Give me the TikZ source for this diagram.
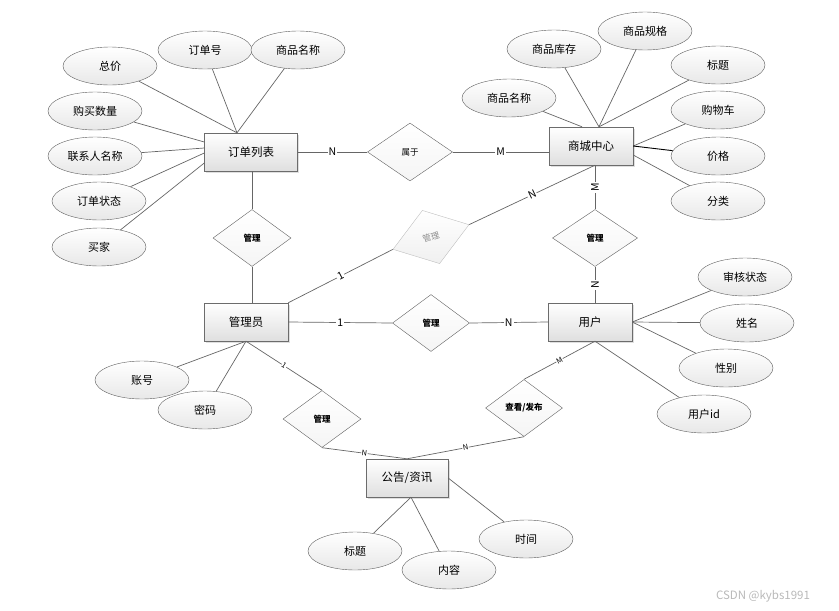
\documentclass[tikz,border=0pt]{standalone}
\usepackage{fontspec}
\newfontfamily\cjk{Noto Sans CJK SC}
\usetikzlibrary{shapes.geometric,shadows}

\begin{document}
\begin{tikzpicture}[x=1pt,y=-1pt,
		entity/.style={draw=gray!85!black, top color=white, bottom color=gray!25, minimum width=84, minimum height=38, inner sep=0,
			drop shadow={opacity=0.25, shadow xshift=1.5pt, shadow yshift=-1.5pt}, font=\cjk\fontsize{11.5}{13}\selectfont},
		attr/.style={ellipse, draw=gray!75!black, top color=white, bottom color=gray!18, minimum width=94, minimum height=38, inner sep=0,
			font=\cjk\fontsize{11}{13}\selectfont},
		rel/.style={diamond, draw=gray!75!black, top color=white, bottom color=gray!8, minimum width=78, minimum height=57, inner sep=0,
			font=\cjk\bfseries\fontsize{8.5}{10}\selectfont},
		link/.style={draw=gray!80!black, line width=0.7pt},
		card/.style={fill=white, inner sep=1pt, font=\cjk\fontsize{10.5}{11}\selectfont},
		smallcard/.style={fill=white, inner sep=0.5pt, font=\cjk\fontsize{7.5}{8}\selectfont}]
	\useasboundingbox (0,0) rectangle (839,611);

	% entities
	\node[entity, minimum width=93] (order) at (251,152) {订单列表};
	\node[entity] (mall) at (591,146) {商城中心};
	\node[entity] (admin) at (246,322) {管理员};
	\node[entity] (user) at (590,322) {用户};
	\node[entity, minimum width=82] (news) at (407,478) {公告/资讯};

	% relations
	\node[rel, minimum width=85, minimum height=58, font=\cjk\fontsize{8.5}{10}\selectfont] (belong) at (410,152) {属于};
	\node[rel] (mgrOrder) at (252,238) {管理};
	\node[rel, minimum width=85] (mgrMall) at (595,238) {管理};
	\node[rel, minimum width=77] (mgrUser) at (431,323) {管理};
	\node[rel] (mgrNews) at (322,419) {管理};
	\node[rel, minimum width=77] (view) at (524,408) {查看/发布};
	\node[rel, draw=gray!50, top color=white, bottom color=gray!12, text=gray!90, rotate=18, minimum width=80, minimum height=56,
		font=\cjk\fontsize{8.5}{10}\selectfont] (mgrGood) at (431,237) {管理};

	% attributes of order
	\node[attr] (total) at (110,66) {总价};
	\node[attr] (orderNo) at (205,50) {订单号};
	\node[attr] (goodsName) at (298,50) {商品名称};
	\node[attr] (amount) at (95,111) {购买数量};
	\node[attr] (contact) at (95,156) {联系人名称};
	\node[attr] (state) at (99,201) {订单状态};
	\node[attr] (buyer) at (99,247) {买家};

	% attributes of mall
	\node[attr] (mallName) at (509,98) {商品名称};
	\node[attr] (stock) at (554,49) {商品库存};
	\node[attr] (spec) at (645,31) {商品规格};
	\node[attr] (mallTitle) at (718,65) {标题};
	\node[attr] (cart) at (718,110) {购物车};
	\node[attr] (price) at (718,156) {价格};
	\node[attr] (kind) at (718,201) {分类};

	% attributes of user
	\node[attr] (audit) at (745,277) {审核状态};
	\node[attr] (name) at (747,323) {姓名};
	\node[attr] (gender) at (726,368) {性别};
	\node[attr] (userId) at (704,414) {用户id};

	% attributes of admin
	\node[attr] (account) at (142,380) {账号};
	\node[attr] (password) at (205,410) {密码};

	% attributes of news
	\node[attr] (newsTitle) at (355,551) {标题};
	\node[attr] (content) at (449,570) {内容};
	\node[attr] (time) at (526,539) {时间};

	\draw[link] (total) -- ([xshift=-14]order.north);
	\draw[link] (orderNo) -- ([xshift=-14]order.north);
	\draw[link] (goodsName) -- ([xshift=-14]order.north);
	\draw[link] (amount) -- ([yshift=10]order.west);
	\draw[link] (contact) -- ([yshift=4]order.west);
	\draw[link] (state) -- ([yshift=-1]order.west);
	\draw[link] (buyer) -- ([yshift=-11]order.west);

	\draw[link] (mallName) -- ([xshift=-9]mall.north);
	\draw[link] (stock) -- ([xshift=8]mall.north);
	\draw[link] (spec) -- ([xshift=8]mall.north);
	\draw[link] (mallTitle) -- ([xshift=8]mall.north);
	\draw[link] (cart) -- (mall.east);
	\draw[black, line width=0.9pt] (price) -- (mall.east);
	\draw[link] (kind) -- ([yshift=-9]mall.east);

	\draw[link] (audit) -- (user.east);
	\draw[link] (name) -- (user.east);
	\draw[link] (gender) -- (user.east);
	\draw[link] (userId) -- ([xshift=5]user.south);

	\draw[link] (account) -- (admin.south);
	\draw[link] (password) -- (admin.south);

	\draw[link] (newsTitle) -- ([xshift=4]news.south);
	\draw[link] (content) -- ([xshift=4]news.south);
	\draw[link] (time) -- (news.east);

	% relation lines
	\draw[link] (order.east) -- (belong.west) node[card, pos=0.5]{N};
	\draw[link] (belong.east) -- (belong.east -| mall.west) node[card, pos=0.5]{M};
	\draw[link] (mgrOrder.north) -- (mgrOrder.north |- order.south);
	\draw[link] (mgrOrder.south) -- (mgrOrder.south |- admin.north);
	\draw[link] (mgrMall.north) -- (mgrMall.north |- mall.south) node[card, sloped, pos=0.5]{M};
	\draw[link] (mgrMall.south |- user.north) -- (mgrMall.south) node[card, sloped, pos=0.5]{N};
	\draw[link] (admin.north east) -- (mgrGood.west) node[card, sloped, pos=0.5]{1};
	\draw[link] (mgrGood.east) -- (mgrMall.north |- mall.south) node[card, sloped, pos=0.5]{N};
	\draw[link] (admin.east) -- (mgrUser.west) node[card, pos=0.5]{1};
	\draw[link] (mgrUser.east) -- (user.west) node[card, pos=0.5]{N};
	\draw[link] (admin.south) -- (mgrNews.north) node[smallcard, sloped, pos=0.5]{1};
	\draw[link] (mgrNews.south) -- (news.north) node[smallcard, sloped, pos=0.5]{N};
	\draw[link] ([xshift=5]user.south) -- (view.north) node[smallcard, sloped, pos=0.5]{M};
	\draw[link] (view.south) -- (news.north) node[smallcard, sloped, pos=0.5]{N};

	\node[text=gray!55, font=\cjk\fontsize{11.5}{13}\selectfont] (mark) at (763,596) {CSDN @kybs1991};
\end{tikzpicture}
\end{document}
